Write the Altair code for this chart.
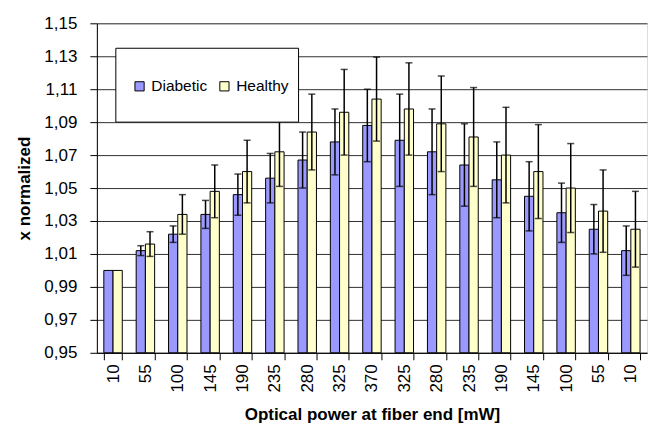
import altair as alt
import pandas as pd

categories = ["10", "55", "100", "145", "190", "235", "280", "325", "370",
              "325", "280", "235", "190", "145", "100", "55", "10"]
diabetic = [1.000, 1.012, 1.022, 1.034, 1.046, 1.056, 1.067, 1.078, 1.088,
            1.079, 1.072, 1.064, 1.055, 1.045, 1.035, 1.025, 1.012]
diabetic_err = [0.0, 0.003, 0.005, 0.0085, 0.0125, 0.015, 0.017, 0.020, 0.022,
                0.028, 0.026, 0.025, 0.023, 0.021, 0.018, 0.015, 0.015]
healthy = [1.000, 1.016, 1.034, 1.048, 1.060, 1.072, 1.084, 1.096, 1.104,
           1.098, 1.089, 1.081, 1.070, 1.060, 1.050, 1.036, 1.025]
healthy_err = [0.0, 0.0075, 0.012, 0.016, 0.019, 0.021, 0.023, 0.026, 0.0255,
               0.028, 0.029, 0.030, 0.029, 0.0285, 0.027, 0.025, 0.023]
series = ["Diabetic", "Healthy"]
colors = ["#9999FF", "#FFFFCC"]
y_ticks = [0.95, 0.97, 0.99, 1.01, 1.03, 1.05, 1.07, 1.09, 1.11, 1.13, 1.15]

rows = []
for i in range(len(categories)):
    rows.append({"idx": i, "series": "Diabetic", "value": diabetic[i], "err": diabetic_err[i]})
    rows.append({"idx": i, "series": "Healthy", "value": healthy[i], "err": healthy_err[i]})
df = pd.DataFrame(rows)
df["lo"] = df["value"] - df["err"]
df["hi"] = df["value"] + df["err"]
df_err = df[df["err"] > 0]

FONT = "Liberation Sans"
label_expr = "[" + ",".join("'%s'" % c for c in categories) + "][datum.value]"

x_axis = alt.Axis(title="Optical power at fiber end [mW]", labelExpr=label_expr,
                  labelAngle=270, tickBand="extent", tickSize=7,
                  labelPadding=4, titlePadding=14, grid=False,
                  labelFontSize=17, titleFontSize=17, titleFontWeight="bold",
                  domainColor="black", tickColor="black",
                  labelColor="black", titleColor="black")
y_axis = alt.Axis(title="x normalized", values=y_ticks, labelOverlap=False,
                  labelExpr="replace(format(datum.value, '.2f'), '.', ',')",
                  tickSize=7, labelPadding=13, titlePadding=10,
                  grid=True, gridColor="#303030", gridWidth=1,
                  labelFontSize=17, titleFontSize=17, titleFontWeight="bold",
                  domainColor="black", tickColor="black",
                  labelColor="black", titleColor="black")
x_scale = alt.Scale(paddingInner=0.43, paddingOuter=0.215)
y_scale = alt.Scale(domain=[0.95, 1.15], zero=False, nice=False)
xoff = alt.XOffset("series:N", scale=alt.Scale(domain=series, paddingInner=0, paddingOuter=0))

bars = alt.Chart(df).mark_bar(stroke="black", strokeWidth=1).encode(
    x=alt.X("idx:O", scale=x_scale, axis=x_axis),
    xOffset=xoff,
    y=alt.Y("value:Q", scale=y_scale, axis=y_axis),
    y2=alt.datum(0.95),
    color=alt.Color("series:N", scale=alt.Scale(domain=series, range=colors),
                    legend=alt.Legend(title=None, orient="none", legendX=35, legendY=55,
                                      direction="horizontal", symbolType="square",
                                      symbolSize=85, symbolStrokeColor="black",
                                      symbolStrokeWidth=1, labelFontSize=15.5,
                                      labelOffset=4, columnPadding=9,
                                      labelColor="black")),
)

rules = alt.Chart(df_err).mark_rule(color="black", strokeWidth=1.5).encode(
    x=alt.X("idx:O", scale=x_scale, axis=x_axis), xOffset=xoff,
    y=alt.Y("lo:Q", scale=y_scale, axis=y_axis), y2="hi:Q")
caps_lo = alt.Chart(df_err).mark_tick(color="black", thickness=1.5, size=7).encode(
    x=alt.X("idx:O", scale=x_scale, axis=x_axis), xOffset=xoff,
    y=alt.Y("lo:Q", scale=y_scale, axis=y_axis))
caps_hi = alt.Chart(df_err).mark_tick(color="black", thickness=1.5, size=7).encode(
    x=alt.X("idx:O", scale=x_scale, axis=x_axis), xOffset=xoff,
    y=alt.Y("hi:Q", scale=y_scale, axis=y_axis))

legend_box = alt.Chart(pd.DataFrame({"k": [0]})).mark_rect(
    fill="white", stroke="black", strokeWidth=1).encode(
    x=alt.value(19), x2=alt.value(202), y=alt.value(25), y2=alt.value(99))

chart = alt.layer(bars, rules, caps_lo, caps_hi, legend_box).properties(
    width=551, height=330,
    autosize=alt.AutoSizeParams(type="none"),
    padding={"left": 89, "top": 15, "right": 10, "bottom": 80},
    background="white",
).configure_view(
    fill="#C0C0C0", stroke="#808080", strokeWidth=1
).configure(font=FONT)

chart.save("out.html", embed_options={"renderer": "svg", "actions": False})
